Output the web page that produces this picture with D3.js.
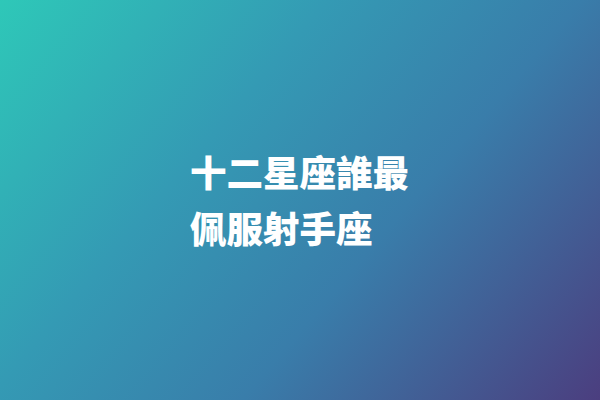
<!DOCTYPE html>
<html>
<head>
<meta charset="utf-8">
<script src="https://cdn.jsdelivr.net/npm/d3@7"></script>
<style>
  html, body { margin: 0; padding: 0; background: #fff; }
  svg { display: block; }
</style>
</head>
<body>
<div id="card"></div>
<script>
// タイトルの行
const titleLines = ["十二星座誰最", "佩服射手座"];

const width = 600;
const height = 400;

// 背景グラデーションの色
const gradientStops = [
    {offset: 0, color: "#2ec8b8"},
    {offset: 0.35, color: "#349ab4"},
    {offset: 0.62, color: "#397daa"},
    {offset: 1, color: "#4b3e7f"}
];

const svg = d3.select("#card")
    .append("svg")
    .attr("width", width)
    .attr("height", height);

// 左上から右下へ、やや横向きのグラデーション (方向 1 : 0.85)
const k = 940 / (1 + 0.85 * 0.85);
const grad = svg.append("defs")
    .append("linearGradient")
    .attr("id", "bg")
    .attr("gradientUnits", "userSpaceOnUse")
    .attr("x1", 0).attr("y1", 0)
    .attr("x2", k).attr("y2", k * 0.85);

grad.selectAll("stop")
    .data(gradientStops)
    .enter()
    .append("stop")
    .attr("offset", d => d.offset)
    .attr("stop-color", d => d.color);

svg.append("rect")
    .attr("width", width)
    .attr("height", height)
    .attr("fill", "url(#bg)");

// 行の縦位置
const y = d3.scalePoint()
    .domain(d3.range(titleLines.length))
    .range([187, 243]);

svg.append("g")
    .selectAll("text")
    .data(titleLines)
    .enter()
    .append("text")
    .attr("x", 190)
    .attr("y", (d, i) => y(i))
    .attr("fill", "#ffffff")
    .style("font-family", "'Noto Sans CJK TC', 'Noto Sans CJK SC', sans-serif")
    .style("font-weight", 900)
    .style("font-size", "36.5px")
    .text(d => d);
</script>
</body>
</html>
